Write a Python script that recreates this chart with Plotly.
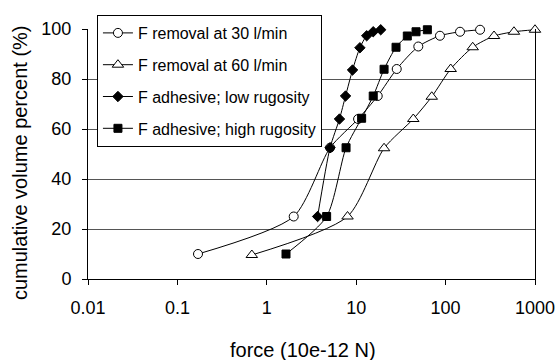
import plotly.graph_objects as go

# F removal at 30 l/min (open circles)
x30 = [0.17, 2.0, 5.1, 10.5, 17.4, 28.4, 49.5, 86.5, 145, 243]
y30 = [10, 25, 52.5, 64, 73.2, 84, 93, 97.3, 98.9, 99.7]

# F removal at 60 l/min (open triangles)
x60 = [0.68, 8.0, 20.5, 43.5, 70, 114, 201, 348, 582, 1000]
y60 = [9.6, 25, 52.3, 64, 72.9, 84, 92.7, 97.2, 98.9, 99.7]

# F adhesive; low rugosity (diamonds)
xlow = [3.7, 5.1, 6.5, 7.6, 9.1, 11.0, 13.1, 15.5, 18.8]
ylow = [25, 52.5, 64, 73.2, 83.6, 92.5, 97.3, 98.9, 99.7]

# F adhesive; high rugosity (squares)
xhigh = [1.64, 4.67, 7.7, 11.5, 15.5, 20.5, 27.9, 37.3, 46.7, 62.5]
yhigh = [10, 25, 52.5, 64.3, 73.2, 83.9, 92.7, 97.2, 98.9, 99.7]

names = ["F removal at 30 l/min", "F removal at 60 l/min",
         "F adhesive; low rugosity", "F adhesive; high rugosity"]

xticks = [0.01, 0.1, 1, 10, 100, 1000]
xticklabels = ["0.01", "0.1", "1", "10", "100", "1000"]
yticks = [0, 20, 40, 60, 80, 100]

x_title = "force (10e-12 N)"
y_title = "cumulative volume percent (%)"

FONT = "Liberation Sans, Arial, Helvetica, sans-serif"

fig = go.Figure()
series = [
    (x30, y30, dict(symbol="circle", size=9, color="white", line=dict(color="black", width=1))),
    (x60, y60, dict(symbol="triangle-up", size=10, color="white", line=dict(color="black", width=1))),
    (xlow, ylow, dict(symbol="diamond", size=8, color="black", line=dict(color="black", width=1))),
    (xhigh, yhigh, dict(symbol="square", size=8, color="black", line=dict(color="black", width=1))),
]
for i, (xs, ys, mk) in enumerate(series):
    fig.add_trace(go.Scatter(
        x=xs, y=ys, mode="lines+markers", name=names[i],
        line=dict(color="black", width=1, shape="spline", smoothing=0.7),
        marker=mk, cliponaxis=False, legendgroup=str(i),
    ))

# axis titles as annotations (positioned like the reference)
fig.add_annotation(text=y_title, xref="paper", yref="paper",
                   x=-0.152, y=0.464, xanchor="center", yanchor="middle",
                   textangle=-90, showarrow=False,
                   font=dict(family=FONT, size=20, color="black"))
fig.add_annotation(text=x_title, xref="paper", yref="paper",
                   x=0.481, y=-0.284, xanchor="center", yanchor="middle",
                   showarrow=False,
                   font=dict(family=FONT, size=20, color="black"))

fig.update_layout(
    template="none",
    width=558, height=360,
    margin=dict(l=88, r=23, t=29, b=81, autoexpand=False),
    paper_bgcolor="white", plot_bgcolor="white",
    font=dict(family=FONT, size=18, color="black"),
    showlegend=True,
    legend=dict(
        x=0.02, y=1.056, xanchor="left", yanchor="top",
        bgcolor="white", bordercolor="black", borderwidth=1,
        font=dict(family=FONT, size=16, color="black"),
        tracegroupgap=8, traceorder="grouped",
    ),
    xaxis=dict(
        type="log", range=[-2, 3], automargin=False,
        tickvals=xticks, ticktext=xticklabels,
        showgrid=False, showline=True, linecolor="black", linewidth=1,
        ticks="outside", ticklen=5, tickcolor="black",
        tickfont=dict(size=18),
        ticklabelstandoff=7,
        zeroline=False,
    ),
    yaxis=dict(
        range=[0, 100], tickvals=yticks, automargin=False,
        showgrid=True, gridcolor="#555555", gridwidth=1,
        showline=True, linecolor="black", linewidth=1, mirror=True,
        ticks="outside", ticklen=5, tickcolor="black",
        tickfont=dict(size=18),
        ticklabelstandoff=7,
        zeroline=False,
    ),
)

fig.write_html(
    "out.html",
    config={"displayModeBar": False},
    post_script="document.body.style.margin='0';document.body.style.padding='0';",
)
